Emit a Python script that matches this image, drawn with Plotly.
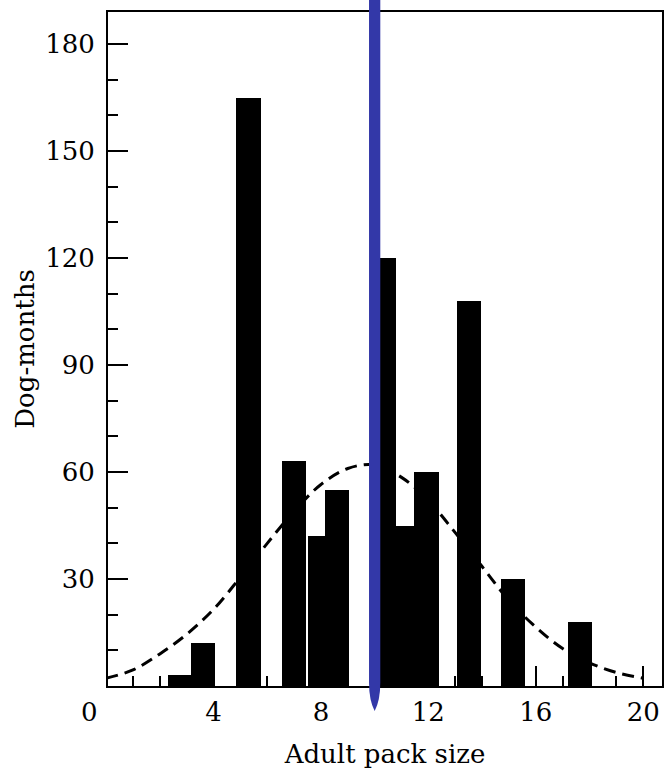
import plotly.graph_objects as go

# Histogram of adult pack size (bar centres) and dog-months observed
pack_size = [2.75, 3.6, 5.3, 7.0, 7.95, 8.6, 10.35, 11.25, 11.93, 13.5, 15.15, 17.65]
dog_months = [3, 12, 165, 63, 42, 55, 120, 45, 60, 108, 30, 18]

# Fitted expectation curve (dashed)
curve_x = list(range(0, 21))
curve_y = [2.2, 4.5, 9, 14.5, 21.5, 30.5, 40, 49, 56.5, 61, 62, 58.5, 52, 43,
           33.5, 24, 16.5, 10.5, 6.5, 3.8, 2.2]

x_tick_vals = [4, 8, 12, 16, 20]
y_tick_vals = [30, 60, 90, 120, 150, 180]

# Position of the blue marker stroke across the chart
marker_x = 10.0

X_RANGE = [0.07, 20.7]
Y_RANGE = [0, 189]
FONT = "DejaVu Serif"


def to_paper_x(v):
    return (v - X_RANGE[0]) / (X_RANGE[1] - X_RANGE[0])


def to_paper_y(v):
    return (v - Y_RANGE[0]) / (Y_RANGE[1] - Y_RANGE[0])


fig = go.Figure()

fig.add_trace(go.Scatter(
    x=curve_x, y=curve_y, mode="lines",
    line=dict(color="black", width=3, dash="12px,7px", shape="spline"),
    hoverinfo="skip", showlegend=False,
))

fig.add_trace(go.Bar(
    x=pack_size, y=dog_months, width=0.9,
    marker=dict(color="black", line=dict(width=0)),
    showlegend=False,
))

# Blue pen stroke: straight sides, tapering to a point just below the axis
hw = 0.21
xl = to_paper_x(marker_x - hw)
xr = to_paper_x(marker_x + hw)
xc = to_paper_x(marker_x)
y_top = 1.03
y_taper = to_paper_y(1)
y_mid = to_paper_y(-4)
y_tip = to_paper_y(-7)
path = (f"M {xl},{y_top} L {xr},{y_top} L {xr},{y_taper} "
        f"Q {xr},{y_mid} {xc},{y_tip} Q {xl},{y_mid} {xl},{y_taper} Z")
fig.add_shape(type="path", path=path, xref="paper", yref="paper",
              fillcolor="rgb(51,56,168)", line=dict(width=0), layer="above")

# The origin label sits just left of the axis corner
fig.add_annotation(x=to_paper_x(0), y=0, xref="paper", yref="paper", text="0",
                   showarrow=False, xanchor="center", yanchor="top",
                   xshift=-17, yshift=-9,
                   font=dict(family=FONT, size=26, color="black"))

axis_common = dict(
    showgrid=False, zeroline=False, showline=True, linecolor="black",
    linewidth=2, mirror=True, ticks="inside", tickcolor="black",
    tickwidth=2, ticklen=20,
    tickfont=dict(family=FONT, size=26, color="black"),
)

fig.update_layout(
    width=666, height=778,
    margin=dict(l=108, r=2, t=12, b=92),
    plot_bgcolor="white", paper_bgcolor="white",
    bargap=0,
    xaxis=dict(
        range=X_RANGE, tickmode="array", tickvals=x_tick_vals,
        ticklabelstandoff=2,
        minor=dict(dtick=1, tick0=0, ticks="inside", ticklen=10,
                   tickwidth=1.5, tickcolor="black"),
        title=dict(text="Adult pack size", standoff=19,
                   font=dict(family=FONT, size=26, color="black")),
        **axis_common,
    ),
    yaxis=dict(
        range=Y_RANGE, tickmode="array", tickvals=y_tick_vals,
        ticklabelstandoff=6,
        minor=dict(dtick=10, tick0=0, ticks="inside", ticklen=10,
                   tickwidth=1.5, tickcolor="black"),
        title=dict(text="Dog-months", standoff=3,
                   font=dict(family=FONT, size=26, color="black")),
        **axis_common,
    ),
)

fig.write_html("out.html")
